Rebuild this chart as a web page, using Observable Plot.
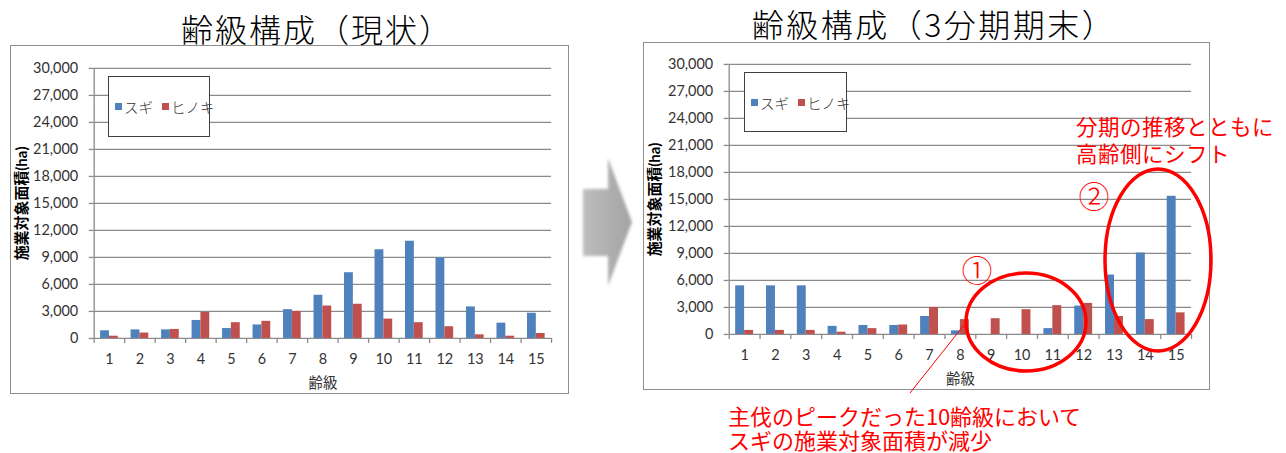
<!DOCTYPE html>
<html>
<head>
<meta charset="utf-8">
<script src="https://cdn.jsdelivr.net/npm/d3@7"></script>
<script src="https://cdn.jsdelivr.net/npm/@observablehq/plot@0.6"></script>
<style>
  @font-face {
    font-family: "NotoTight";
    src: local("Noto Sans CJK JP Regular"), local("NotoSansCJKjp-Regular"), local("Noto Sans CJK JP");
    ascent-override: 88%;
    descent-override: 12%;
    line-gap-override: 0%;
  }
  html, body { margin: 0; padding: 0; background: #fff; }
  #page { position: relative; width: 1286px; height: 453px; overflow: hidden; font-family: "Noto Sans CJK JP", sans-serif; }
  .title { position: absolute; font-size: 32px; font-weight: 300; color: #000; white-space: nowrap; line-height: 1.2; }
  .frame { position: absolute; box-sizing: border-box; border: 1.5px solid #8f8f8f; background: #fff; }
  .frame svg { position: absolute; left: -1.5px; top: -1.5px; }
  .legend { position: absolute; box-sizing: border-box; border: 1.2px solid #404040; background: #fff;
            display: flex; align-items: center; padding-left: 6px; font-size: 14.5px; color: #333; font-weight: 300;
            white-space: nowrap; }
  .legend .sw { display: inline-block; width: 7px; height: 7px; margin-right: 2px; flex: none; }
  .legend .item { display: flex; align-items: center; margin-right: 9px; white-space: nowrap; flex: none; }
  .note { position: absolute; color: #ff0000; white-space: pre; font-family: "NotoTight", "Noto Sans CJK JP", sans-serif; }
  #overlay { position: absolute; left: 0; top: 0; pointer-events: none; }
</style>
</head>
<body>
<div id="page"></div>
<script>
// ---- data ----
const ageClasses = [1, 2, 3, 4, 5, 6, 7, 8, 9, 10, 11, 12, 13, 14, 15];
const seriesNames = ["スギ", "ヒノキ"];
const seriesColors = ["#4F81BD", "#C0504D"];
const sugiNow   = [850, 950, 950, 2000, 1100, 1500, 3200, 4800, 7300, 9850, 10800, 8950, 3500, 1700, 2800];
const hinokiNow = [250, 600, 1000, 2900, 1750, 1900, 3000, 3600, 3800, 2150, 1750, 1300, 400, 250, 550];
const sugiEnd   = [5400, 5400, 5400, 900, 1000, 1000, 2000, 400, 0, 0, 650, 3150, 6600, 9050, 15350];
const hinokiEnd = [450, 450, 450, 250, 650, 1050, 3000, 1650, 1750, 2750, 3200, 3450, 2000, 1650, 2400];
const yTicks = [0, 3000, 6000, 9000, 12000, 15000, 18000, 21000, 24000, 27000, 30000];
const titleNow = "齢級構成（現状）";
const titleEnd = "齢級構成（3分期期末）";
const yTitle = "施業対象面積(ha)";
const xTitle = "齢級";
const note1 = ["主伐のピークだった10齢級において", "スギの施業対象面積が減少"];
const note2 = ["分期の推移とともに", "高齢側にシフト"];

const page = document.getElementById("page");
const grid = "#8a8a8a";
const barW = 0.29;

function makeChart(sugi, hinoki, w, h, m) {
  const rows = ageClasses.map((c, i) => ({c, sugi: sugi[i], hinoki: hinoki[i]}));
  const bounds = ageClasses.map(c => c - 0.5).concat([ageClasses[ageClasses.length - 1] + 0.5]);
  return Plot.plot({
    width: w, height: h,
    marginLeft: m.l, marginRight: m.r, marginTop: m.t, marginBottom: m.b,
    style: {fontFamily: "Lato, 'Noto Sans CJK JP', sans-serif", fontSize: "14.5px", color: "#333", background: "transparent", overflow: "visible"},
    x: {domain: [bounds[0], bounds[bounds.length - 1]]},
    y: {domain: [0, 30000]},
    marks: [
      Plot.gridY(yTicks, {stroke: grid, strokeOpacity: 1, strokeWidth: 1.3}),
      Plot.axisY({ticks: yTicks, tickSize: 5, tickPadding: 11, tickFormat: d3.format(","), stroke: grid, strokeWidth: 1.3, label: null, fontSize: 14.5}),
      Plot.axisY({ticks: [], label: yTitle, labelAnchor: "center", labelArrow: "none", labelOffset: m.l - 6,
                  fontWeight: "bold", fontSize: 15, fill: "#000"}),
      Plot.ruleX([bounds[0]], {stroke: grid, strokeWidth: 1.3}),
      Plot.axisX({ticks: bounds, tickSize: 5, tickFormat: () => "", stroke: grid, strokeWidth: 1.3, label: null}),
      Plot.axisX({ticks: ageClasses, tickSize: 0, tickPadding: 15, tickFormat: d => String(d), fontSize: 14.5,
                  label: xTitle, labelAnchor: "center", labelArrow: "none", labelOffset: 50}),
      Plot.rectY(rows, {x1: d => d.c - barW, x2: d => d.c, y: "sugi", fill: seriesColors[0]}),
      Plot.rectY(rows, {x1: d => d.c, x2: d => d.c + barW, y: "hinoki", fill: seriesColors[1]})
    ]
  });
}

function addFrame(x, y, w, h, svg) {
  const f = document.createElement("div");
  f.className = "frame";
  Object.assign(f.style, {left: x + "px", top: y + "px", width: w + "px", height: h + "px"});
  f.appendChild(svg);
  page.appendChild(f);
}

function addLegend(x, y, w, h) {
  const lg = document.createElement("div");
  lg.className = "legend";
  Object.assign(lg.style, {left: x + "px", top: y + "px", width: w + "px", height: h + "px"});
  seriesNames.forEach((n, i) => {
    const it = document.createElement("span");
    it.className = "item";
    const sw = document.createElement("span");
    sw.className = "sw";
    sw.style.background = seriesColors[i];
    it.appendChild(sw);
    it.appendChild(document.createTextNode(n));
    lg.appendChild(it);
  });
  page.appendChild(lg);
}

function addTitle(text, cx, cy, spacing) {
  const t = document.createElement("div");
  t.className = "title";
  t.style.letterSpacing = spacing + "px";
  t.textContent = text;
  page.appendChild(t);
  const r = t.getBoundingClientRect();
  t.style.left = (cx - r.width / 2) + "px";
  t.style.top = (cy - r.height / 2) + "px";
}

function addNote(lines, x, top, size, lh) {
  const d = document.createElement("div");
  d.className = "note";
  Object.assign(d.style, {left: x + "px", top: top + "px", fontSize: size + "px", lineHeight: lh + "px"});
  d.textContent = lines.join("\n");
  page.appendChild(d);
}

addFrame(10, 45, 559, 349, makeChart(sugiNow, hinokiNow, 559, 349, {l: 84, r: 16, t: 23, b: 55}));
addFrame(643, 42, 567, 348, makeChart(sugiEnd, hinokiEnd, 567, 348, {l: 86, r: 17, t: 22, b: 55}));
addLegend(108, 76, 102, 61);
addLegend(744, 72, 103, 60);
addTitle(titleNow, 317, 28, 2);
addTitle(titleEnd, 934, 23, 2.5);

// ---- annotations overlay ----
const ns = "http://www.w3.org/2000/svg";
const ov = document.createElementNS(ns, "svg");
ov.setAttribute("id", "overlay");
ov.setAttribute("width", 1286);
ov.setAttribute("height", 453);
ov.innerHTML = `
  <defs>
    <filter id="blur" x="-20%" y="-20%" width="140%" height="140%"><feGaussianBlur stdDeviation="1.6"/></filter>
    <linearGradient id="ag" x1="0" x2="1" y1="0" y2="0">
      <stop offset="0" stop-color="#bdbdbd"/><stop offset="1" stop-color="#a3a3a3"/>
    </linearGradient>
  </defs>
  <path d="M583,189 L608,189 L608,158 L632,222 L608,286 L608,256 L583,256 Z" fill="url(#ag)" filter="url(#blur)"/>
  <line x1="910" y1="393" x2="964" y2="325" stroke="#ff0000" stroke-width="1"/>
  <ellipse cx="1026" cy="322" rx="60" ry="49" fill="none" stroke="#ff0000" stroke-width="3.5"/>
  <ellipse cx="1158" cy="260" rx="53" ry="91" fill="none" stroke="#ff0000" stroke-width="3.5"/>
  <g font-family="'Noto Sans CJK JP', sans-serif" fill="#ff0000" font-weight="300">
    <text x="977" y="268" font-size="31" text-anchor="middle" dominant-baseline="central">①</text>
    <text x="1094" y="194" font-size="31" text-anchor="middle" dominant-baseline="central">②</text>
  </g>`;
page.appendChild(ov);
addNote(note2, 1076, 114, 21.5, 27);
addNote(note1, 728, 405, 22, 24);
</script>
</body>
</html>
